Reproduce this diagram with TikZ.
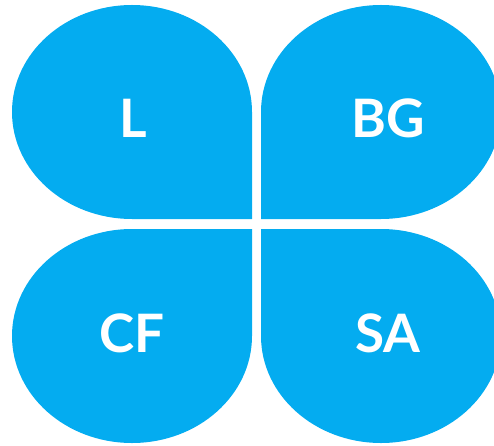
\documentclass[tikz,border=0pt]{standalone}
\usepackage{fontspec}
\setmainfont{Lato}
\definecolor{petal}{RGB}{4,172,240}
\begin{document}
\begin{tikzpicture}[x=1pt,y=1pt,
  petalfill/.style={fill=petal,draw=none},
  lbl/.style={text=white,font=\fontsize{53}{60}\selectfont\bfseries,anchor=base,inner sep=0pt}]
\useasboundingbox (0,0) rectangle (494,445);
\clip (0,0) rectangle (494,445);
% top-left
\fill[petal] (252,226) -- (132,226) arc[start angle=270,end angle=0,x radius=120,y radius=107] -- cycle;
% top-right
\fill[petal] (261,226) -- (261,333) arc[start angle=180,end angle=-90,x radius=120,y radius=107] -- cycle;
% bottom-left
\fill[petal] (252,216) -- (252,109) arc[start angle=0,end angle=-270,x radius=120,y radius=107] -- cycle;
% bottom-right
\fill[petal] (261,216) -- (381,216) arc[start angle=90,end angle=-180,x radius=120,y radius=107] -- cycle;
\node[lbl] (l) at (133,308) {L};
\node[lbl] (bg) at (388,308) {BG};
\node[lbl] (cf) at (132,93) {CF};
\node[lbl] (sa) at (388,93) {SA};
\end{tikzpicture}
\end{document}
